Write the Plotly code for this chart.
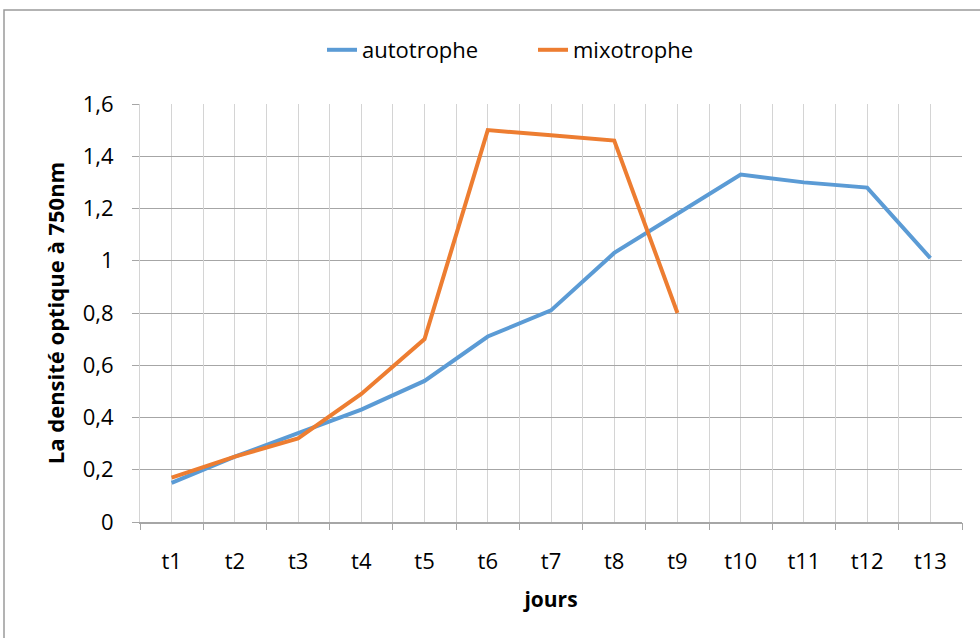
import plotly.graph_objects as go

# Optical density at 750 nm over the culture days
jours = ["t1", "t2", "t3", "t4", "t5", "t6", "t7", "t8", "t9", "t10", "t11", "t12", "t13"]
autotrophe = [0.15, 0.25, 0.34, 0.43, 0.54, 0.71, 0.81, 1.03, 1.18, 1.33, 1.30, 1.28, 1.01]
mixotrophe = [0.17, 0.25, 0.32, 0.49, 0.70, 1.50, 1.48, 1.46, 0.80]

BLUE = "#5B9BD5"
ORANGE = "#ED7D31"
FONT = "Open Sans, Calibri, Arial, sans-serif"
GRID_H = "#a6a6a6"
GRID_V = "#d4d4d4"

W, H = 980, 638
ML, MR, MT, MB = 140, 18, 104, 116

fig = go.Figure()

# invisible trace carrying the categories for the boundary-grid axis
fig.add_trace(go.Scatter(x=jours, y=[None] * len(jours), xaxis="x2", mode="lines",
                         showlegend=False, hoverinfo="skip"))

fig.add_trace(go.Scatter(x=jours, y=autotrophe, name="autotrophe", mode="lines",
                         line=dict(color=BLUE, width=4)))
fig.add_trace(go.Scatter(x=jours[:len(mixotrophe)], y=mixotrophe, name="mixotrophe",
                         mode="lines", line=dict(color=ORANGE, width=4)))

pw = W - ML - MR
ph = H - MT - MB

fig.update_layout(
    width=W, height=H,
    margin=dict(l=ML, r=MR, t=MT, b=MB),
    paper_bgcolor="white", plot_bgcolor="white",
    separators=", ",
    font=dict(family=FONT, size=22, color="#000000"),
    showlegend=True,
    legend=dict(orientation="h", x=(322 - ML) / pw, xanchor="left",
                y=(ph + MT - 50) / ph, yanchor="middle",
                font=dict(size=22), bgcolor="rgba(0,0,0,0)",
                entrywidth=166, entrywidthmode="pixels"),
    xaxis=dict(type="category", categoryorder="array", categoryarray=jours,
               range=[-0.5, len(jours) - 0.5],
               showgrid=True, gridcolor=GRID_V, gridwidth=1,
               ticks="outside", ticklen=0, ticklabelstandoff=19,
               showline=True, linecolor=GRID_H, linewidth=1.5,
               title=dict(text="<b>jours</b>", font=dict(size=21), standoff=18),
               zeroline=False),
    xaxis2=dict(type="category", categoryorder="array", categoryarray=jours,
                overlaying="x", matches="x", side="bottom",
                tickson="boundaries", showgrid=True, gridcolor=GRID_V, gridwidth=1,
                ticks="outside", ticklen=7, tickcolor=GRID_H,
                showticklabels=False, showline=False, zeroline=False),
    yaxis=dict(range=[0, 1.6], dtick=0.2, tick0=0,
               showgrid=True, gridcolor=GRID_H, gridwidth=1,
               ticks="outside", ticklen=7, tickcolor=GRID_H,
               showline=True, linecolor=GRID_V, linewidth=1,
               zeroline=False, ticklabelstandoff=14,
               title=dict(text="<b>La densité optique à 750nm</b>", font=dict(size=22),
                          standoff=12)),
    shapes=[dict(type="rect", xref="paper", yref="paper",
                 x0=(4 - ML) / pw, x1=(W + 10 - ML) / pw,
                 y0=(ph + MT - (H + 10)) / ph, y1=(ph + MT - 10) / ph,
                 line=dict(color="#9a9a9a", width=1.5), layer="below")],
)

fig.write_html("out.html")
